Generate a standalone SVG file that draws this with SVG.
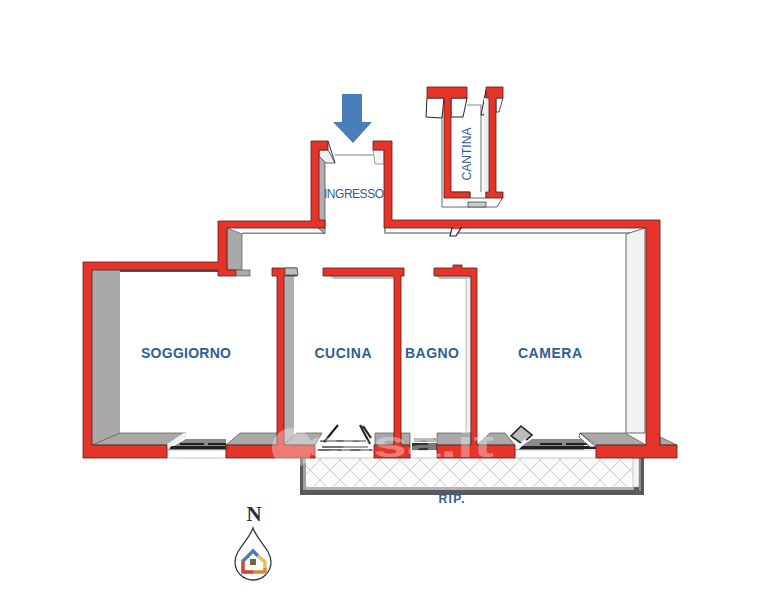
<svg xmlns="http://www.w3.org/2000/svg" width="766" height="600" viewBox="0 0 766 600">
<style>
.w{fill:#e5352a;stroke:#5a1a14;stroke-width:.8}
.g{fill:#a9a9a9;stroke:#555;stroke-width:.7}
.lg{fill:#f0f0f0;stroke:#666;stroke-width:1}
.wh{fill:#fff;stroke:#333;stroke-width:1}
.l{font-family:"Liberation Sans",Arial,sans-serif;fill:#2f5f8f;font-weight:700}
</style>
<defs>
<pattern id="h" width="20" height="20" patternUnits="userSpaceOnUse">
<path d="M0 0L20 20M20 0L0 20" stroke="#cfcfcf" stroke-width="1" fill="none"/>
</pattern>
</defs>
<rect width="766" height="600" fill="#fff"/>

<g id="ripostiglio">
<rect x="306" y="458" width="328" height="29" fill="#fafafa"/>
<rect x="306" y="458" width="328" height="29" fill="url(#h)"/>
<path d="M300 458H306V487H634V458H644V495H300Z" fill="#5a5a5a"/>
<rect x="306" y="487" width="328" height="3" fill="#b5b5b5"/>
<rect x="303" y="458" width="3" height="32" fill="#a0a0a0"/>
<rect x="633" y="458" width="6" height="29" fill="#f4f4f4" stroke="#999" stroke-width=".5"/>
<rect x="639" y="458" width="2" height="33" fill="#8a8a8a"/>
</g>

<g id="shadows">
<rect x="92" y="269" width="28" height="176" fill="#a9a9a9"/>
<rect x="120" y="269" width="98" height="3" fill="#555"/>
<path d="M227 228L242 234V270H227Z" class="g"/>
<rect x="242" y="232.500" width="83" height="1.500" fill="#888"/>
<path d="M318 149L325 158V234L318 228Z" fill="#b0b0b0" stroke="#444" stroke-width=".7"/>
<rect x="283" y="276" width="11" height="169" fill="#b0b0b0"/>
<path d="M319 150H328L335 163H326L319 156Z" class="lg"/>
<path d="M328 141L335 163" stroke="#333" stroke-width="1"/>
<path d="M373 150H384V164H375Z" fill="#f4f4f4" stroke="#888" stroke-width=".8"/>
<path d="M335 155H374" stroke="#aaa" stroke-width="1.400"/>
<path d="M385 228V233H640" fill="none" stroke="#888" stroke-width="1.600"/>
<path d="M645 228L626 234V433H645Z" fill="#f2f2f2" stroke="#666" stroke-width="1"/>
<path d="M330 276L334 279H394V276Z" fill="#bbb"/>
<path d="M436 276L440 279H471V276Z" fill="#bbb"/>
<rect x="466" y="278" width="5" height="167" fill="#eee" stroke="#999" stroke-width=".6"/>
<path d="M92 445L120 433H186L167 445Z" class="g"/>
<path d="M226 445L240 433H277V445Z" class="g"/>
<path d="M283 445L297 433H322L315 445Z" class="g"/>
<path d="M375 445V433H394V445Z" class="g"/>
<path d="M401 445V433H410V445Z" class="g"/>
<path d="M437 445V433H471V445Z" class="g"/>
<path d="M477 445L490 433H505L515 445Z" class="g"/>
<path d="M596 445L580 433H625L646 445Z" class="g"/>
<path d="M660 437L677 445H660Z" class="g"/>
</g>

<g id="windows">
<rect x="167" y="450" width="59" height="8" fill="#fff" stroke="#bbb" stroke-width=".8"/>
<path d="M186 439H226V450H167Z" fill="#8a8a8a"/>
<rect x="170" y="446" width="56" height="3" fill="#222"/>
<path d="M180 444H204M208 444H226" stroke="#222" stroke-width="2"/>
<path d="M168 446L186 434" stroke="#f2f2f2" stroke-width="4"/>
<rect x="315" y="450" width="59" height="8" fill="#fff" stroke="#bbb" stroke-width=".8"/>
<path d="M320 441H366M322 447H368M318 450H372" stroke="#444" stroke-width="1.600"/>
<path d="M324 442L338 425M360 425L370 444M363 426L371 438" stroke="#222" stroke-width="2.200" fill="none"/>
<rect x="410" y="450" width="27" height="8" fill="#fff" stroke="#bbb" stroke-width=".8"/>
<rect x="412" y="443" width="25" height="7" fill="#333"/>
<rect x="414" y="438" width="22" height="4" fill="#999"/>
<rect x="515" y="450" width="81" height="8" fill="#fff" stroke="#bbb" stroke-width=".8"/>
<path d="M532 439H584V450H515Z" fill="#8a8a8a"/>
<rect x="518" y="446" width="78" height="3" fill="#222"/>
<path d="M540 444H562M566 444H590" stroke="#222" stroke-width="2"/>
<path d="M580 433L596 447L590 447L579 437Z" fill="#fff" stroke="#333" stroke-width=".8"/>
<path d="M511 436L521 426L532 435L522 444Z" fill="#bbb" stroke="#222" stroke-width="1.600"/>
<path d="M517 449L526 440" stroke="#fff" stroke-width="3"/>
</g>

<g id="walls">
<path class="w" d="M83 262H218V221H311V141H328V150H319V220H325V228H227V270H236V276H218V270H92V445H167V458H83Z"/>
<path class="w" d="M373 141H392V220H660V445H677V458H596V445H646V228H384V150H373Z"/>
<path class="w" d="M226 445H277V276H272V268H297V276H284V445H315V458H226Z"/>
<path class="w" d="M323 268H404V276H401V445H410V458H374V445H394V276H323Z"/>
<path class="w" d="M434 268H453V265H462V268H477V445H515V458H437V445H471V276H434Z"/>
<path d="M236 270H250V276L236 276Z" class="g"/>
<path d="M285 268H297L298 275H285Z" fill="#bbb" stroke="#444" stroke-width=".7"/>
<path d="M452 228H461L456 236H450Z" fill="#fff" stroke="#222" stroke-width="1.200"/>
<rect x="453" y="225" width="7" height="4" fill="#e5352a"/>
</g>

<g id="cantina">
<path d="M442 110H445V192H470V198L486 198V192H496L503 197L497 207H442Z" fill="#fff" stroke="#666" stroke-width="1"/>
<path d="M468 202H486V207H468Z" fill="#ccc" stroke="#444" stroke-width=".8"/>
<path d="M427 98L426 117L442 118L444 98Z" fill="#fff" stroke="#222" stroke-width="1"/>
<path d="M451 98H467L463 117H451Z" fill="#fff" stroke="#222" stroke-width="1"/>
<path d="M467 105H481V118" fill="none" stroke="#888" stroke-width="1.200"/>
<path d="M481 118V192" stroke="#888" stroke-width="1.200"/>
<path d="M481 115L486 90V98L484 115Z" fill="#fff" stroke="#222" stroke-width="1"/>
<path d="M496 98H503L499 112L496 112Z" fill="#fff" stroke="#222" stroke-width=".8"/>
<rect x="484" y="98" width="5" height="94" fill="#eee"/>
<path class="w" d="M427 87H467V98H451V192H470V198H444V98H427Z"/>
<path class="w" d="M486 87H503V98H496V192H503V198H486V192H489V98H486Z"/>
</g>

<g id="entrance-arrow">
<path d="M342 94H362V122H372L353 143L333 122H342Z" fill="#4a7ebb"/>
</g>

<g id="watermark" fill="#fff" opacity=".35">
<circle cx="292" cy="448" r="20"/>
<text x="306" y="457" font-family="'Liberation Sans',Arial,sans-serif" font-size="37" font-weight="700" textLength="188" lengthAdjust="spacingAndGlyphs">casa.it</text>
</g>

<g id="labels">
<text class="l" x="186" y="358" font-size="14" text-anchor="middle" textLength="90">SOGGIORNO</text>
<text class="l" x="343" y="358" font-size="14" text-anchor="middle" textLength="57">CUCINA</text>
<text class="l" x="432" y="358" font-size="14" text-anchor="middle" textLength="54">BAGNO</text>
<text class="l" x="550" y="358" font-size="14" text-anchor="middle" textLength="64">CAMERA</text>
<text class="l" x="354" y="198" font-size="12" text-anchor="middle" textLength="60" style="font-weight:400">INGRESSO</text>
<text class="l" transform="translate(471 154) rotate(-90)" font-size="12" text-anchor="middle" textLength="53" style="font-weight:400">CANTINA</text>
<text class="l" x="451.500" y="503" font-size="12" text-anchor="middle" textLength="26">RIP.</text>
</g>

<g id="north-logo">
<text x="254" y="521" font-family="'Liberation Serif',serif" font-size="21" font-weight="700" text-anchor="middle" fill="#1e2f45">N</text>
<path d="M253 528C249 540 235 550 235 562A18 18 0 0 0 271 562C271 550 257 540 253 528Z" fill="#fff" stroke="#2b3a50" stroke-width="1.300"/>
<path d="M242 562L253 551L258 556" fill="none" stroke="#4a7ebb" stroke-width="3.500"/>
<path d="M258 556L265 562V568" fill="none" stroke="#e9c14a" stroke-width="3.500"/>
<path d="M243 562V572H253" fill="none" stroke="#c9443a" stroke-width="3.500"/>
<path d="M253 572H265V568" fill="none" stroke="#d98a30" stroke-width="3.500"/>
<rect x="250" y="559" width="6" height="6" fill="#6b6b4a"/>
</g>
</svg>
